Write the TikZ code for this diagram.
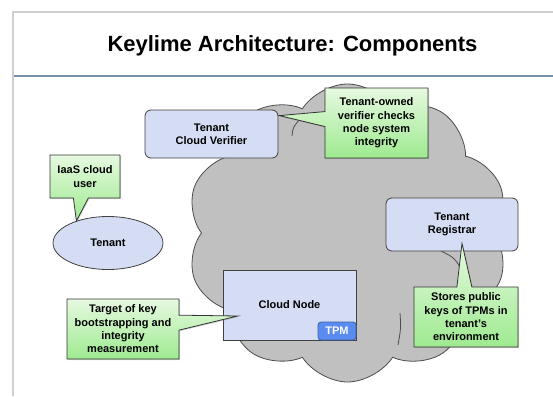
\documentclass[tikz,border=0pt]{standalone}
\usepackage{fontspec}
\setmainfont{Liberation Sans}
\usetikzlibrary{positioning,shapes.symbols,shapes.callouts,shapes.geometric,shadows,calc}
\definecolor{boxBlue}{RGB}{212,221,243}
\definecolor{cloudGray}{RGB}{192,192,192}
\definecolor{noteTop}{RGB}{230,249,224}
\definecolor{noteBottom}{RGB}{158,234,144}
\definecolor{tpmBlue}{RGB}{90,139,238}
\definecolor{ruleBlue}{RGB}{122,143,168}
\definecolor{frameGray}{RGB}{208,208,208}
\newcommand{\lblfont}{\fontsize{11}{13.3}\selectfont\bfseries}

\tikzset{
  comp/.style={draw=black!75,fill=boxBlue,rounded corners=6pt,align=center,
    font=\lblfont,line width=0.8pt,inner sep=0pt},
  note/.style={rectangle callout,draw=black!80,top color=noteTop,bottom color=noteBottom,
    align=center,font=\lblfont,line width=0.8pt,inner sep=0pt,callout pointer width=15pt,
    drop shadow={shadow xshift=1pt,shadow yshift=-1pt,opacity=0.35}},
  puffline/.style={draw=black!70,line width=0.8pt},
}

\begin{document}
\begin{tikzpicture}[x=1pt,y=-1pt]
		\useasboundingbox (0,0) rectangle (553,396);
		% frame and title
		\draw[frameGray,line width=2pt] (13,396) -- (13,12) -- (553,12);
		\node[font=\fontsize{22}{26}\selectfont\bfseries,anchor=base] (title) at (292.5,52) {Keylime Architecture: Components};
		\draw[ruleBlue,line width=1.5pt] (14,76) -- (553,76);

		% the cloud
		\node[cloud,draw=black!70,fill=cloudGray,line width=0.8pt,cloud puffs=10,cloud puff arc=115,
			aspect=1.08,minimum width=322pt,minimum height=298pt,inner sep=0pt] (cloud) at (347.5,233) {};
		% inner puff lines
		\draw[puffline] (292,136) .. controls (293,127) .. (301,118);
		\draw[puffline] (400,313) .. controls (401,328) .. (398,345);
		\draw[puffline] (441,251) .. controls (455,258) .. (464,274);

		% components
		\node[comp,minimum width=133pt,minimum height=48pt] (verifier) at (211.5,134) {Tenant\\Cloud Verifier};
		\node[comp,minimum width=132pt,minimum height=53pt] (registrar) at (452,224.5) {Tenant\\Registrar};
		\node[comp,rounded corners=0pt,minimum width=133pt,minimum height=70pt] (cnode) at (289.5,305) {Cloud Node};
		\node[comp,ellipse,minimum width=110pt,minimum height=53pt] (tenant) at (108,243) {Tenant};
		\node[comp,rounded corners=3pt,fill=tpmBlue,draw=tpmBlue!70!black,text=white,
			minimum width=38pt,minimum height=18pt,anchor=south east] (tpm) at (cnode.south east) {TPM};

		% notes
		\node[note,minimum width=103pt,minimum height=70pt,
			callout absolute pointer={($(verifier.north east)+(1,6)$)}] (verifiernote) at (376.5,123)
			{Tenant-owned\\verifier checks\\node system\\integrity};
		\node[note,minimum width=70pt,minimum height=43pt,
			callout absolute pointer={(tenant.145)}] (usernote) at (85,176.5)
			{IaaS cloud\\user};
		\node[note,minimum width=112pt,minimum height=60pt,
			callout absolute pointer={($(cnode.west)+(15,11)$)}] (nodenote) at (123,329)
			{Target of key\\bootstrapping and\\integrity\\measurement};
		\node[note,minimum width=104pt,minimum height=60pt,
			callout absolute pointer={($(registrar.south)+(10,-8)$)}] (registrarnote) at (466,317)
			{Stores public\\keys of TPMs in\\tenant's\\environment};
\end{tikzpicture}
\end{document}
